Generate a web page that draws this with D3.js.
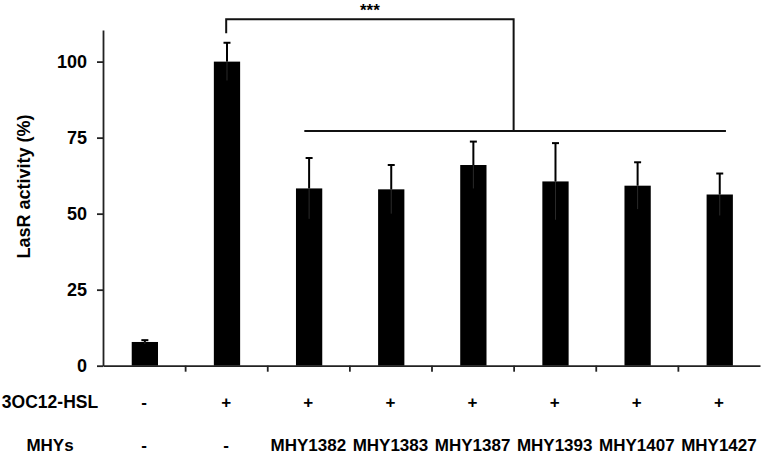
<!DOCTYPE html>
<html><head><meta charset="utf-8">
<script src="https://cdn.jsdelivr.net/npm/d3@7"></script>
<style>
html,body{margin:0;padding:0;background:#fff;}
svg text{font-family:"Liberation Sans",Arial,sans-serif;font-weight:bold;fill:#000;}
</style></head>
<body>
<svg id="c" width="766" height="454"></svg>
<script>
const categories = ["ctrl","3OC12","MHY1382","MHY1383","MHY1387","MHY1393","MHY1407","MHY1427"];
const values = [7.8, 100, 58.3, 58.0, 66.0, 60.6, 59.2, 56.3];
const errors = [0.6, 6.2, 10.0, 8.0, 7.7, 12.6, 7.7, 6.9];
const hslRow = ["-","+","+","+","+","+","+","+"];
const mhyRow = ["-","-","MHY1382","MHY1383","MHY1387","MHY1393","MHY1407","MHY1427"];
const yTicks = [0,25,50,75,100];
const rowLabels = ["3OC12-HSL","MHYs"];
const sigLabel = "***";
const bracketTop = 113.9, bracketDrop = 109.3, bracketLow = 77.2;

const svg = d3.select("#c");
const L = 103, R = 760, T = 30, B = 365.7;
const y = d3.scaleLinear().domain([0,110.4]).range([B,T]);
const x = d3.scaleBand().domain(categories).range([L,R]).paddingInner(0.68).paddingOuter(0.34);
const xi = d3.scaleLinear().domain([0,categories.length]).range([L,R]);
const cx = c => x(c) + x.bandwidth()/2;

// bars
svg.append("g").selectAll("rect").data(categories).join("rect")
  .attr("x", d => x(d) + 0.8).attr("width", x.bandwidth())
  .attr("y", (d,i) => y(values[i])).attr("height", (d,i) => B - y(values[i]))
  .attr("fill", "#000");

// error bars
const eg = svg.append("g").attr("stroke","#000").attr("stroke-width",2);
categories.forEach((c,i) => {
  const xc = cx(c) + 0.8;
  eg.append("line").attr("x1",xc).attr("x2",xc)
    .attr("y1",y(values[i])).attr("y2",y(values[i]+errors[i]));
  eg.append("line").attr("x1",xc-3.5).attr("x2",xc+3.5)
    .attr("y1",y(values[i]+errors[i])).attr("y2",y(values[i]+errors[i]));
  // lower whisker inside the bar, faintly visible
  eg.append("line").attr("x1",xc).attr("x2",xc)
    .attr("y1",y(values[i]-errors[i])).attr("y2",y(values[i]))
    .attr("stroke","#2a2a2a").attr("stroke-width",1);
});

// y axis
const ya = svg.append("g").attr("transform",`translate(${L},0)`)
  .call(d3.axisLeft(y).tickValues(yTicks).tickSize(6).tickSizeOuter(0).tickPadding(10));
ya.select(".domain").attr("stroke","#222").attr("stroke-width",1.8);
ya.selectAll(".tick line").attr("stroke","#222").attr("stroke-width",1.8);
ya.selectAll(".tick text").style("font-size","18px").attr("font-family",null).attr("fill","#000");

// x axis
const xa = svg.append("g").attr("transform",`translate(0,${B})`)
  .call(d3.axisBottom(xi).tickValues(d3.range(1,categories.length)).tickFormat("").tickSize(6).tickSizeOuter(0));
xa.select(".domain").attr("stroke","#222").attr("stroke-width",1.8);
xa.selectAll(".tick line").attr("stroke","#222").attr("stroke-width",1.8);

// y title
svg.append("text").attr("transform",`translate(30,186.5) rotate(-90)`)
  .attr("text-anchor","middle").style("font-size","18px").text("LasR activity (%)");

// rows
const rowY = [408, 451];
svg.append("text").attr("x",50).attr("y",rowY[0]).attr("text-anchor","middle").style("font-size","17.5px").text(rowLabels[0]);
svg.append("text").attr("x",50).attr("y",rowY[1]).attr("text-anchor","middle").style("font-size","17px").text(rowLabels[1]);
svg.append("g").selectAll("text").data(categories).join("text")
  .attr("x", d => cx(d)).attr("y",rowY[0]).attr("text-anchor","middle").style("font-size","17px")
  .text((d,i) => hslRow[i]);
svg.append("g").selectAll("text").data(categories).join("text")
  .attr("x", d => cx(d)).attr("y",rowY[1]).attr("text-anchor","middle").style("font-size","17px")
  .text((d,i) => mhyRow[i]);

// significance bracket
const bx1 = cx(categories[1]);
const bx2 = (cx(categories[2]) + cx(categories[7]))/2;
const bg = svg.append("g").attr("stroke","#111").attr("stroke-width",2).attr("fill","none");
bg.append("path").attr("d",`M${bx1},${y(bracketDrop)}V${y(bracketTop)}H${bx2}V${y(bracketLow)}`);
bg.append("line").attr("x1",cx(categories[2])-4).attr("x2",cx(categories[7])+7)
  .attr("y1",y(bracketLow)).attr("y2",y(bracketLow));
svg.append("text").attr("x",(bx1+bx2)/2).attr("y",15.5).attr("text-anchor","middle")
  .style("font-size","17px").text(sigLabel);
</script>
</body></html>
